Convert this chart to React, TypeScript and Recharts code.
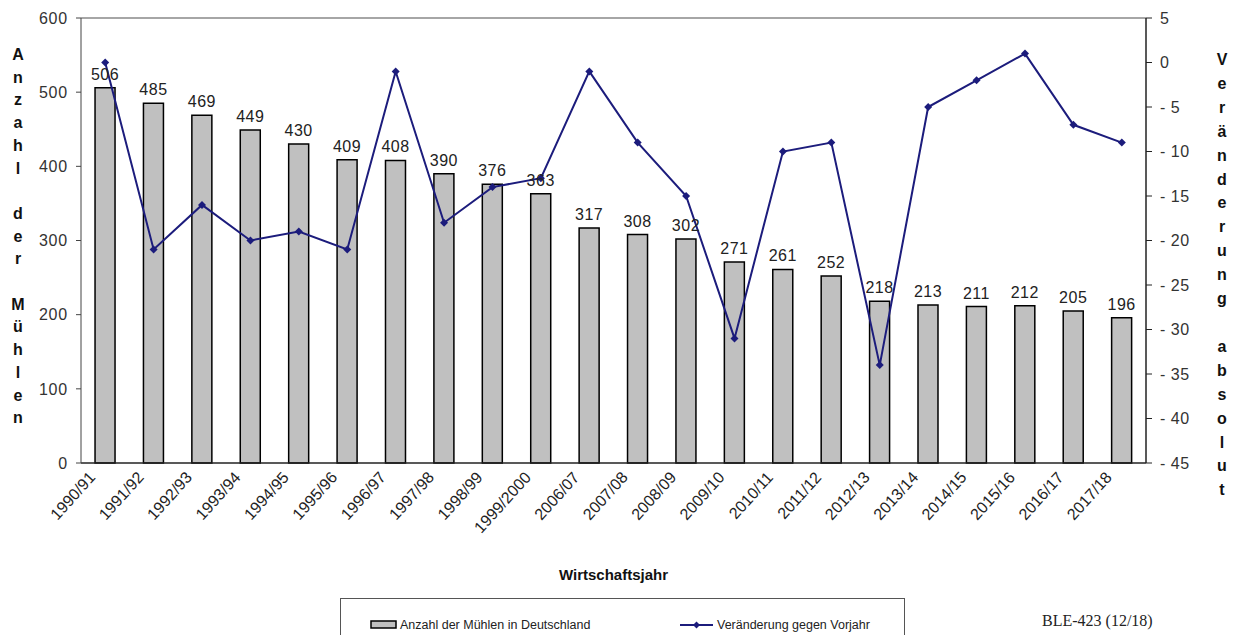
import { ComposedChart, Bar, Line, XAxis, YAxis, LabelList, ReferenceLine } from 'recharts';

// Wirtschaftsjahre (Kategorien)
const jahre = [
  '1990/91', '1991/92', '1992/93', '1993/94', '1994/95', '1995/96', '1996/97', '1997/98',
  '1998/99', '1999/2000', '2006/07', '2007/08', '2008/09', '2009/10', '2010/11', '2011/12',
  '2012/13', '2013/14', '2014/15', '2015/16', '2016/17', '2017/18',
];

// Anzahl der Mühlen in Deutschland
const muehlen = [506, 485, 469, 449, 430, 409, 408, 390, 376, 363, 317, 308, 302, 271, 261, 252, 218, 213, 211, 212, 205, 196];

// Veränderung gegen Vorjahr (absolut)
const veraenderung = [0, -21, -16, -20, -19, -21, -1, -18, -14, -13, -1, -9, -15, -31, -10, -9, -34, -5, -2, 1, -7, -9];

const linksTicks = [0, 100, 200, 300, 400, 500, 600];
const rechtsTicks = [5, 0, -5, -10, -15, -20, -25, -30, -35, -40, -45];

const data = jahre.map((jahr, i) => ({ jahr, muehlen: muehlen[i], veraenderung: veraenderung[i] }));

const FONT = '"Liberation Sans", Arial, sans-serif';
const NAVY = '#1c1c7c';

const SchraegTick = ({ x, y, payload }: any) => (
  <text
    x={x - 9}
    y={y + 15}
    transform={`rotate(-48 ${x - 9} ${y + 15})`}
    textAnchor="end"
    fontSize={16}
    fill="#222"
    fontFamily={FONT}
  >
    {payload.value}
  </text>
);

// kleine Raute als Punkt
const Raute = ({ cx, cy }: any) => {
  if (cx == null || cy == null) return null;
  const s = 4;
  return <polygon points={`${cx},${cy - s} ${cx + s},${cy} ${cx},${cy + s} ${cx - s},${cy}`} fill={NAVY} />;
};

const Stapel = ({ text, style }: { text: string; style: React.CSSProperties }) => (
  <div
    style={{
      position: 'absolute',
      fontFamily: FONT,
      fontWeight: 'bold',
      fontSize: 16,
      color: '#111',
      textAlign: 'center',
      width: 20,
      whiteSpace: 'pre',
      ...style,
    }}
  >
    {text.split('').map((c) => (c === ' ' ? '\u00a0' : c)).join('\n')}
  </div>
);

export default function App() {
  return (
    <div style={{ position: 'absolute', left: 0, top: 0, width: 1247, height: 635, background: '#fff', overflow: 'hidden' }}>
      <ComposedChart
        width={1247}
        height={635}
        data={data}
        margin={{ top: 18, right: 41, left: 31, bottom: 62 }}
        barCategoryGap="29%"
      >
        <XAxis
          dataKey="jahr"
          interval={0}
          height={110}
          tick={<SchraegTick />}
          tickLine={false}
          tickSize={0}
          tickMargin={0}
          axisLine={{ stroke: '#222', strokeWidth: 1.5 }}
        />
        <YAxis
          yAxisId="left"
          domain={[0, 600]}
          ticks={linksTicks}
          width={50}
          tickSize={5}
          tickMargin={8}
          tick={{ fill: '#333', fontSize: 16, fontFamily: FONT, letterSpacing: 0.8 }}
          axisLine={{ stroke: '#444' }}
          tickLine={{ stroke: '#444' }}
        />
        <YAxis
          yAxisId="right"
          orientation="right"
          domain={[-45, 5]}
          ticks={rechtsTicks}
          width={60}
          tickSize={6}
          tickMargin={8}
          tickFormatter={(v: number) => (v < 0 ? `- ${-v}` : `${v}`)}
          tick={{ fill: '#333', fontSize: 16, fontFamily: FONT, letterSpacing: 0.5 }}
          axisLine={{ stroke: '#222', strokeWidth: 1.5 }}
          tickLine={{ stroke: '#222' }}
        />
        <ReferenceLine yAxisId="left" y={600} stroke="#888" strokeWidth={1.5} />
        <Bar
          yAxisId="left"
          dataKey="muehlen"
          fill="#c0c0c0"
          stroke="#000"
          strokeWidth={1.5}
          isAnimationActive={false}
        >
          <LabelList dataKey="muehlen" position="top" offset={8} fill="#222" fontSize={16} fontFamily={FONT} letterSpacing={0.5} />
        </Bar>
        <Line
          yAxisId="right"
          dataKey="veraenderung"
          stroke={NAVY}
          strokeWidth={2}
          dot={<Raute />}
          activeDot={false}
          isAnimationActive={false}
        />
      </ComposedChart>

      <Stapel text="Anzahl der Mühlen" style={{ left: 8, top: 44, lineHeight: '22.7px' }} />
      <Stapel text="Veränderung absolut" style={{ left: 1212, top: 48, lineHeight: '23.9px' }} />

      <div
        style={{
          position: 'absolute',
          left: 0,
          width: 1227,
          top: 566,
          textAlign: 'center',
          fontFamily: FONT,
          fontWeight: 'bold',
          fontSize: 15,
          color: '#111',
        }}
      >
        Wirtschaftsjahr
      </div>

      <div
        style={{
          position: 'absolute',
          left: 340,
          top: 598,
          width: 565,
          height: 40,
          border: '1px solid #555',
          boxSizing: 'border-box',
          fontFamily: FONT,
          fontSize: 12.5,
          color: '#222',
        }}
      >
        <div style={{ position: 'absolute', left: 29, top: 19, display: 'flex', alignItems: 'center' }}>
          <svg width={28} height={10} style={{ marginRight: 2 }}>
            <rect x={1} y={1} width={25} height={7} fill="#c0c0c0" stroke="#000" strokeWidth={1.5} />
          </svg>
          <span>Anzahl der Mühlen in Deutschland</span>
        </div>
        <div style={{ position: 'absolute', left: 339, top: 19, display: 'flex', alignItems: 'center' }}>
          <svg width={34} height={10} style={{ marginRight: 3 }}>
            <line x1={0} y1={5} x2={33} y2={5} stroke={NAVY} strokeWidth={2} />
            <polygon points="16.5,1.5 20,5 16.5,8.5 13,5" fill={NAVY} />
          </svg>
          <span>Veränderung gegen Vorjahr</span>
        </div>
      </div>

      <div
        style={{
          position: 'absolute',
          left: 1042,
          top: 612,
          fontFamily: '"Liberation Serif", "Times New Roman", serif',
          fontSize: 16,
          color: '#222',
        }}
      >
        BLE-423 (12/18)
      </div>
    </div>
  );
}
